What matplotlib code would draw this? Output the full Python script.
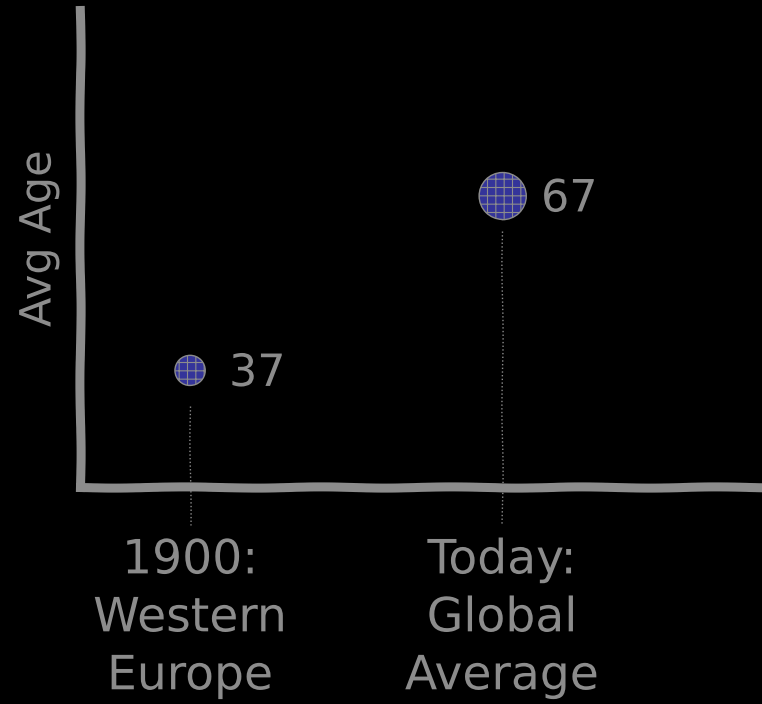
import matplotlib
matplotlib.use("Agg")
import matplotlib.pyplot as plt
from matplotlib import patheffects

categories = ["1900:\nWestern\nEurope", "Today:\nGlobal\nAverage"]
ages = [37, 67]
marker_sizes = [450, 1150]

plt.xkcd(scale=0.6, length=150, randomness=2)
plt.rcParams['path.effects'] = [patheffects.withStroke(linewidth=3, foreground="black")]
plt.rcParams['font.family'] = ['DejaVu Sans']

grey = '#8c8c8c'
fig = plt.figure(figsize=(7.62, 7.04), dpi=100, facecolor='black')
ax = fig.add_axes([80/762, (704-487)/704, 1 - 80/762, (487-10)/704])
ax.set_facecolor('black')

x = list(range(len(categories)))
ax.set_xlim(-0.353, 1.833)
ax.set_ylim(17, 99)

for xi, yi in zip(x, ages):
    ax.plot([xi, xi], [yi - 6, 10.5], color=grey, lw=1, ls=':', clip_on=False, zorder=1)

plt.rcParams['hatch.color'] = grey
plt.rcParams['hatch.linewidth'] = 0.8
ax.scatter(x, ages, s=marker_sizes, facecolor='#34349a', edgecolor=grey, hatch='++',
           linewidth=1, zorder=3)

for xi, yi in zip(x, ages):
    ax.annotate(str(yi), (xi, yi), xytext=(28, -2), textcoords='offset points',
                ha='left', va='center', fontsize=32, color=grey)

for side in ['top', 'right']:
    ax.spines[side].set_visible(False)
for side in ['left', 'bottom']:
    ax.spines[side].set_color(grey)
    ax.spines[side].set_linewidth(6.5)

ax.set_xticks(x)
ax.set_xticklabels(categories, fontsize=34, color=grey, linespacing=1.37)
ax.tick_params(axis='x', length=0, pad=37)
ax.set_yticks([])
ax.set_ylabel("Avg Age", fontsize=31, color=grey)
ax.yaxis.set_label_coords(-0.03, 0.52)

fig.savefig("out.png", dpi=100, facecolor='black')
